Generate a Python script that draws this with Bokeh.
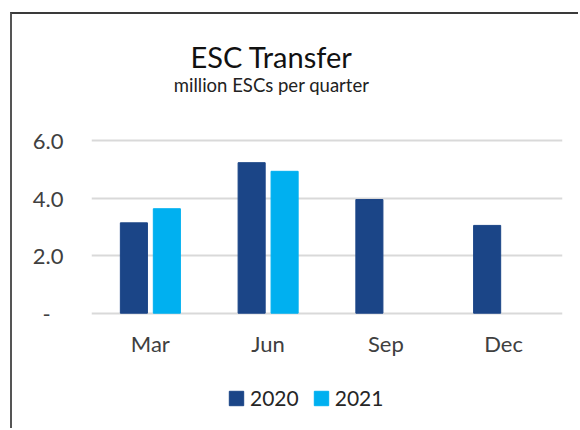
import numpy as np
from bokeh.plotting import figure
from bokeh.models import (ColumnDataSource, FactorRange, Range1d, FixedTicker,
                          Legend, LegendItem, Label)
from bokeh.transform import dodge
from bokeh.embed import file_html
from bokeh.resources import INLINE

# ---- data ----
months = ["Mar", "Jun", "Sep", "Dec"]
v2020 = [3.14, 5.23, 3.95, 3.05]
v2021 = [3.63, 4.93, None, None]
series = ["2020", "2021"]
colors = ["#1b4587", "#00b0f0"]
y_ticks = [0, 2, 4, 6]
y_tick_labels = ["-\u2007", "2.0", "4.0", "6.0"]
title_text = "ESC Transfer"
subtitle_text = "million ESCs per quarter"

FONT = "Lato"

def clean(vals):
    return [np.nan if v is None else v for v in vals]

src = ColumnDataSource(dict(month=months, s2020=clean(v2020), s2021=clean(v2021)))

# the frame covers the whole card height so that titles and legend are not clipped
p = figure(width=568, height=416,
           x_range=FactorRange(*months, range_padding=0),
           y_range=Range1d(-4.076, 10.379),
           output_backend="svg", toolbar_location=None,
           min_border_left=79, min_border_right=18,
           min_border_top=0, min_border_bottom=0,
           outline_line_color=None,
           styles={"margin-left": "10px", "margin-top": "12px",
                   "border-left": "2px solid #555555",
                   "border-top": "2px solid #3a3a3a"})

bw = 0.23
off = 0.14
r1 = p.vbar(x=dodge("month", -off, range=p.x_range), top="s2020", width=bw,
            source=src, fill_color=colors[0], line_color=colors[0])
r2 = p.vbar(x=dodge("month", off, range=p.x_range), top="s2021", width=bw,
            source=src, fill_color=colors[1], line_color=colors[1])

# grid
p.xgrid.visible = False
p.ygrid.ticker = FixedTicker(ticks=y_ticks)
p.ygrid.grid_line_color = "#d9d9d9"
p.ygrid.grid_line_width = 2

# y axis
p.yaxis.ticker = FixedTicker(ticks=y_ticks)
p.yaxis.major_label_overrides = {t: l for t, l in zip(y_ticks, y_tick_labels)}
p.yaxis.axis_line_color = None
p.yaxis.major_tick_line_color = None
p.yaxis.minor_tick_line_color = None
p.yaxis.major_tick_out = 0
p.yaxis.major_tick_in = 0
p.yaxis.major_label_standoff = 28
p.yaxis.major_label_text_font = FONT
p.yaxis.major_label_text_font_size = "22px"
p.yaxis.major_label_text_color = "#404040"

# x axis, drawn at y = 0
p.xaxis.fixed_location = 0
p.xaxis.axis_line_color = None
p.xaxis.major_tick_line_color = None
p.xaxis.major_tick_out = 0
p.xaxis.major_tick_in = 0
p.xaxis.major_label_standoff = 17
p.xaxis.major_label_text_font = FONT
p.xaxis.major_label_text_font_size = "22px"
p.xaxis.major_label_text_color = "#404040"

# titles
p.add_layout(Label(x=1.529, y=8.92, text=title_text, text_align="center",
                   text_baseline="alphabetic", text_font=FONT,
                   text_font_size="29px", text_color="#111111"))
p.add_layout(Label(x=1.529, y=7.94, text=subtitle_text, text_align="center",
                   text_baseline="alphabetic", text_font=FONT,
                   text_font_size="18.5px", text_color="#222222"))

legend = Legend(items=[LegendItem(label=series[0], renderers=[r1]),
                       LegendItem(label=series[1], renderers=[r2])],
                orientation="horizontal", location=(136, 20),
                border_line_color=None, background_fill_alpha=0,
                padding=0, margin=0, spacing=13, label_standoff=5,
                glyph_width=18, glyph_height=18, label_height=18,
                label_text_font=FONT, label_text_font_size="21px",
                label_text_color="#262626")
p.add_layout(legend)

open("out.html", "w").write(file_html(p, INLINE))
